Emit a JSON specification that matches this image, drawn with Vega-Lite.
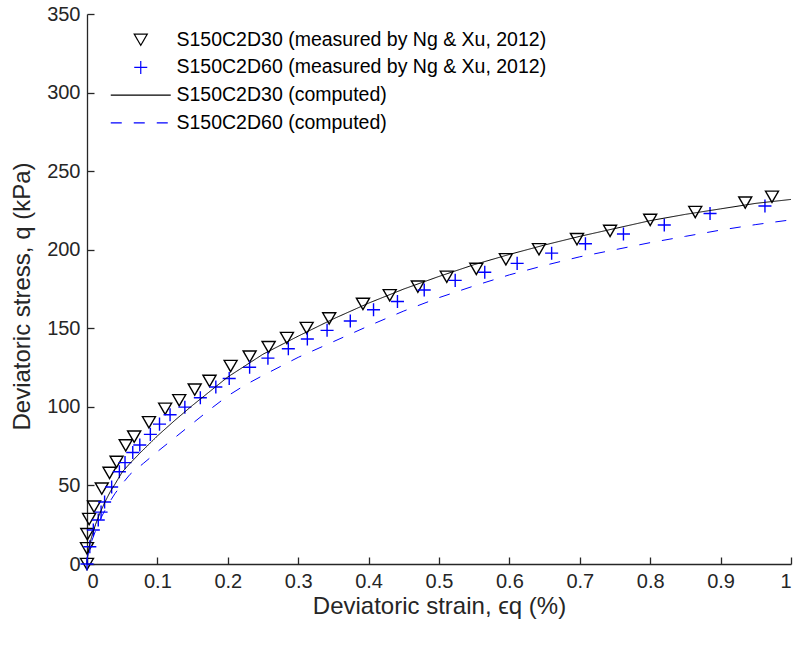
{
  "$schema": "https://vega.github.io/schema/vega-lite/v6.json",
  "width": 704,
  "height": 550,
  "autosize": {"type": "none"},
  "padding": {"left": 87, "top": 14, "right": 6, "bottom": 84},
  "background": "white",
  "config": {
    "view": {"stroke": null},
    "font": "Liberation Sans",
    "axis": {
      "grid": false,
      "domainColor": "#262626",
      "domainWidth": 1.3,
      "tickColor": "#262626",
      "tickWidth": 1.3,
      "tickSize": -7,
      "labelColor": "#262626",
      "labelFont": "Liberation Sans Narrow, Liberation Sans",
      "labelFontSize": 20,
      "titleColor": "#262626",
      "titleFontSize": 24,
      "titleFontWeight": "normal"
    }
  },
  "datasets": {
    "measured": [
      {"s": "S150C2D30 (measured by Ng & Xu, 2012)", "x": 0.0, "q": 0},
      {"s": "S150C2D30 (measured by Ng & Xu, 2012)", "x": 0.0, "q": 10},
      {"s": "S150C2D30 (measured by Ng & Xu, 2012)", "x": 0.0005, "q": 19},
      {"s": "S150C2D30 (measured by Ng & Xu, 2012)", "x": 0.003, "q": 28.6},
      {"s": "S150C2D30 (measured by Ng & Xu, 2012)", "x": 0.010, "q": 36.5},
      {"s": "S150C2D30 (measured by Ng & Xu, 2012)", "x": 0.021, "q": 48},
      {"s": "S150C2D30 (measured by Ng & Xu, 2012)", "x": 0.032, "q": 58},
      {"s": "S150C2D30 (measured by Ng & Xu, 2012)", "x": 0.042, "q": 65},
      {"s": "S150C2D30 (measured by Ng & Xu, 2012)", "x": 0.055, "q": 75.5},
      {"s": "S150C2D30 (measured by Ng & Xu, 2012)", "x": 0.067, "q": 81},
      {"s": "S150C2D30 (measured by Ng & Xu, 2012)", "x": 0.088, "q": 90.2},
      {"s": "S150C2D30 (measured by Ng & Xu, 2012)", "x": 0.111, "q": 98.8},
      {"s": "S150C2D30 (measured by Ng & Xu, 2012)", "x": 0.131, "q": 104.2},
      {"s": "S150C2D30 (measured by Ng & Xu, 2012)", "x": 0.153, "q": 111},
      {"s": "S150C2D30 (measured by Ng & Xu, 2012)", "x": 0.174, "q": 116.5},
      {"s": "S150C2D30 (measured by Ng & Xu, 2012)", "x": 0.204, "q": 126},
      {"s": "S150C2D30 (measured by Ng & Xu, 2012)", "x": 0.231, "q": 132},
      {"s": "S150C2D30 (measured by Ng & Xu, 2012)", "x": 0.258, "q": 138},
      {"s": "S150C2D30 (measured by Ng & Xu, 2012)", "x": 0.284, "q": 143.8},
      {"s": "S150C2D30 (measured by Ng & Xu, 2012)", "x": 0.312, "q": 150.2},
      {"s": "S150C2D30 (measured by Ng & Xu, 2012)", "x": 0.344, "q": 156.3},
      {"s": "S150C2D30 (measured by Ng & Xu, 2012)", "x": 0.392, "q": 165.5},
      {"s": "S150C2D30 (measured by Ng & Xu, 2012)", "x": 0.430, "q": 171},
      {"s": "S150C2D30 (measured by Ng & Xu, 2012)", "x": 0.470, "q": 176.5},
      {"s": "S150C2D30 (measured by Ng & Xu, 2012)", "x": 0.511, "q": 182.8},
      {"s": "S150C2D30 (measured by Ng & Xu, 2012)", "x": 0.553, "q": 187.8},
      {"s": "S150C2D30 (measured by Ng & Xu, 2012)", "x": 0.595, "q": 193.9},
      {"s": "S150C2D30 (measured by Ng & Xu, 2012)", "x": 0.642, "q": 200.3},
      {"s": "S150C2D30 (measured by Ng & Xu, 2012)", "x": 0.696, "q": 206.7},
      {"s": "S150C2D30 (measured by Ng & Xu, 2012)", "x": 0.743, "q": 212},
      {"s": "S150C2D30 (measured by Ng & Xu, 2012)", "x": 0.800, "q": 219},
      {"s": "S150C2D30 (measured by Ng & Xu, 2012)", "x": 0.864, "q": 224},
      {"s": "S150C2D30 (measured by Ng & Xu, 2012)", "x": 0.935, "q": 230},
      {"s": "S150C2D30 (measured by Ng & Xu, 2012)", "x": 0.973, "q": 233.7},
      {"s": "S150C2D60 (measured by Ng & Xu, 2012)", "x": 0.0, "q": 0},
      {"s": "S150C2D60 (measured by Ng & Xu, 2012)", "x": 0.004, "q": 11},
      {"s": "S150C2D60 (measured by Ng & Xu, 2012)", "x": 0.009, "q": 21.6},
      {"s": "S150C2D60 (measured by Ng & Xu, 2012)", "x": 0.016, "q": 28},
      {"s": "S150C2D60 (measured by Ng & Xu, 2012)", "x": 0.020, "q": 33},
      {"s": "S150C2D60 (measured by Ng & Xu, 2012)", "x": 0.025, "q": 39.5},
      {"s": "S150C2D60 (measured by Ng & Xu, 2012)", "x": 0.035, "q": 49},
      {"s": "S150C2D60 (measured by Ng & Xu, 2012)", "x": 0.046, "q": 58.7},
      {"s": "S150C2D60 (measured by Ng & Xu, 2012)", "x": 0.054, "q": 64.5},
      {"s": "S150C2D60 (measured by Ng & Xu, 2012)", "x": 0.065, "q": 71},
      {"s": "S150C2D60 (measured by Ng & Xu, 2012)", "x": 0.075, "q": 75.7},
      {"s": "S150C2D60 (measured by Ng & Xu, 2012)", "x": 0.090, "q": 82.5},
      {"s": "S150C2D60 (measured by Ng & Xu, 2012)", "x": 0.103, "q": 89},
      {"s": "S150C2D60 (measured by Ng & Xu, 2012)", "x": 0.118, "q": 95},
      {"s": "S150C2D60 (measured by Ng & Xu, 2012)", "x": 0.139, "q": 99.8},
      {"s": "S150C2D60 (measured by Ng & Xu, 2012)", "x": 0.161, "q": 105.8},
      {"s": "S150C2D60 (measured by Ng & Xu, 2012)", "x": 0.183, "q": 112.6},
      {"s": "S150C2D60 (measured by Ng & Xu, 2012)", "x": 0.202, "q": 118},
      {"s": "S150C2D60 (measured by Ng & Xu, 2012)", "x": 0.231, "q": 125.2},
      {"s": "S150C2D60 (measured by Ng & Xu, 2012)", "x": 0.257, "q": 131},
      {"s": "S150C2D60 (measured by Ng & Xu, 2012)", "x": 0.286, "q": 137},
      {"s": "S150C2D60 (measured by Ng & Xu, 2012)", "x": 0.313, "q": 143.2},
      {"s": "S150C2D60 (measured by Ng & Xu, 2012)", "x": 0.341, "q": 148.7},
      {"s": "S150C2D60 (measured by Ng & Xu, 2012)", "x": 0.374, "q": 154.6},
      {"s": "S150C2D60 (measured by Ng & Xu, 2012)", "x": 0.407, "q": 161.8},
      {"s": "S150C2D60 (measured by Ng & Xu, 2012)", "x": 0.441, "q": 167},
      {"s": "S150C2D60 (measured by Ng & Xu, 2012)", "x": 0.479, "q": 174.4},
      {"s": "S150C2D60 (measured by Ng & Xu, 2012)", "x": 0.523, "q": 180.5},
      {"s": "S150C2D60 (measured by Ng & Xu, 2012)", "x": 0.565, "q": 185.7},
      {"s": "S150C2D60 (measured by Ng & Xu, 2012)", "x": 0.611, "q": 191.3},
      {"s": "S150C2D60 (measured by Ng & Xu, 2012)", "x": 0.660, "q": 197.8},
      {"s": "S150C2D60 (measured by Ng & Xu, 2012)", "x": 0.708, "q": 203.8},
      {"s": "S150C2D60 (measured by Ng & Xu, 2012)", "x": 0.762, "q": 210},
      {"s": "S150C2D60 (measured by Ng & Xu, 2012)", "x": 0.820, "q": 215.7},
      {"s": "S150C2D60 (measured by Ng & Xu, 2012)", "x": 0.885, "q": 223},
      {"s": "S150C2D60 (measured by Ng & Xu, 2012)", "x": 0.963, "q": 227.8}
    ],
    "computed": [
      {"s": "S150C2D30 (computed)", "x": 0, "q": 0},
      {"s": "S150C2D30 (computed)", "x": 0.001, "q": 6},
      {"s": "S150C2D30 (computed)", "x": 0.003, "q": 11},
      {"s": "S150C2D30 (computed)", "x": 0.0066, "q": 17.4},
      {"s": "S150C2D30 (computed)", "x": 0.012, "q": 25},
      {"s": "S150C2D30 (computed)", "x": 0.018, "q": 32},
      {"s": "S150C2D30 (computed)", "x": 0.025, "q": 39},
      {"s": "S150C2D30 (computed)", "x": 0.033, "q": 46},
      {"s": "S150C2D30 (computed)", "x": 0.04, "q": 51},
      {"s": "S150C2D30 (computed)", "x": 0.05, "q": 58.5},
      {"s": "S150C2D30 (computed)", "x": 0.061, "q": 64},
      {"s": "S150C2D30 (computed)", "x": 0.075, "q": 70.5},
      {"s": "S150C2D30 (computed)", "x": 0.1, "q": 81.5},
      {"s": "S150C2D30 (computed)", "x": 0.125, "q": 91.5},
      {"s": "S150C2D30 (computed)", "x": 0.15, "q": 101},
      {"s": "S150C2D30 (computed)", "x": 0.175, "q": 110},
      {"s": "S150C2D30 (computed)", "x": 0.2, "q": 119},
      {"s": "S150C2D30 (computed)", "x": 0.25, "q": 133.5},
      {"s": "S150C2D30 (computed)", "x": 0.3, "q": 145},
      {"s": "S150C2D30 (computed)", "x": 0.35, "q": 156},
      {"s": "S150C2D30 (computed)", "x": 0.4, "q": 166},
      {"s": "S150C2D30 (computed)", "x": 0.45, "q": 175},
      {"s": "S150C2D30 (computed)", "x": 0.5, "q": 183},
      {"s": "S150C2D30 (computed)", "x": 0.55, "q": 190.5},
      {"s": "S150C2D30 (computed)", "x": 0.6, "q": 197},
      {"s": "S150C2D30 (computed)", "x": 0.65, "q": 203},
      {"s": "S150C2D30 (computed)", "x": 0.7, "q": 208.5},
      {"s": "S150C2D30 (computed)", "x": 0.75, "q": 213.5},
      {"s": "S150C2D30 (computed)", "x": 0.8, "q": 218.5},
      {"s": "S150C2D30 (computed)", "x": 0.85, "q": 222.5},
      {"s": "S150C2D30 (computed)", "x": 0.9, "q": 226},
      {"s": "S150C2D30 (computed)", "x": 0.95, "q": 229.5},
      {"s": "S150C2D30 (computed)", "x": 1.0, "q": 232},
      {"s": "S150C2D60 (computed)", "x": 0, "q": 0},
      {"s": "S150C2D60 (computed)", "x": 0.001, "q": 5},
      {"s": "S150C2D60 (computed)", "x": 0.003, "q": 9},
      {"s": "S150C2D60 (computed)", "x": 0.007, "q": 15},
      {"s": "S150C2D60 (computed)", "x": 0.012, "q": 21},
      {"s": "S150C2D60 (computed)", "x": 0.02, "q": 29.5},
      {"s": "S150C2D60 (computed)", "x": 0.03, "q": 38},
      {"s": "S150C2D60 (computed)", "x": 0.04, "q": 45},
      {"s": "S150C2D60 (computed)", "x": 0.05, "q": 51},
      {"s": "S150C2D60 (computed)", "x": 0.061, "q": 57},
      {"s": "S150C2D60 (computed)", "x": 0.08, "q": 64},
      {"s": "S150C2D60 (computed)", "x": 0.1, "q": 71.5},
      {"s": "S150C2D60 (computed)", "x": 0.125, "q": 80.5},
      {"s": "S150C2D60 (computed)", "x": 0.15, "q": 89.5},
      {"s": "S150C2D60 (computed)", "x": 0.175, "q": 98.5},
      {"s": "S150C2D60 (computed)", "x": 0.2, "q": 107},
      {"s": "S150C2D60 (computed)", "x": 0.225, "q": 114},
      {"s": "S150C2D60 (computed)", "x": 0.25, "q": 120},
      {"s": "S150C2D60 (computed)", "x": 0.3, "q": 131.5},
      {"s": "S150C2D60 (computed)", "x": 0.35, "q": 141.5},
      {"s": "S150C2D60 (computed)", "x": 0.4, "q": 151.5},
      {"s": "S150C2D60 (computed)", "x": 0.45, "q": 161},
      {"s": "S150C2D60 (computed)", "x": 0.5, "q": 169.5},
      {"s": "S150C2D60 (computed)", "x": 0.55, "q": 177},
      {"s": "S150C2D60 (computed)", "x": 0.6, "q": 184},
      {"s": "S150C2D60 (computed)", "x": 0.65, "q": 190},
      {"s": "S150C2D60 (computed)", "x": 0.7, "q": 195.5},
      {"s": "S150C2D60 (computed)", "x": 0.75, "q": 200},
      {"s": "S150C2D60 (computed)", "x": 0.8, "q": 204.5},
      {"s": "S150C2D60 (computed)", "x": 0.85, "q": 208.5},
      {"s": "S150C2D60 (computed)", "x": 0.9, "q": 212.5},
      {"s": "S150C2D60 (computed)", "x": 0.95, "q": 216},
      {"s": "S150C2D60 (computed)", "x": 1.0, "q": 219}
    ]
  },
  "encoding": {
    "x": {
      "field": "x",
      "type": "quantitative",
      "scale": {"domain": [0, 1], "nice": false, "zero": false},
      "axis": {
        "values": [0, 0.1, 0.2, 0.3, 0.4, 0.5, 0.6, 0.7, 0.8, 0.9, 1],
        "format": "~g",
        "labelPadding": 14,
        "title": "Deviatoric strain, ϵq (%)",
        "titleX": 352,
        "titleY": 42,
        "titleBaseline": "middle"
      }
    },
    "y": {
      "field": "q",
      "type": "quantitative",
      "scale": {"domain": [0, 350], "nice": false},
      "axis": {
        "values": [0, 50, 100, 150, 200, 250, 300, 350],
        "labelPadding": 14,
        "title": "Deviatoric stress, q (kPa)",
        "titleX": -65,
        "titleY": 282,
        "titleBaseline": "middle"
      }
    },
    "color": {
      "field": "s",
      "type": "nominal",
      "scale": {
        "domain": ["S150C2D30 (measured by Ng & Xu, 2012)", "S150C2D60 (measured by Ng & Xu, 2012)", "S150C2D30 (computed)", "S150C2D60 (computed)"],
        "range": ["#000000", "#0000ff", "#000000", "#0000ff"]
      },
      "legend": {
        "title": null,
        "orient": "none",
        "legendX": 44,
        "legendY": 16,
        "padding": 0,
        "labelFontSize": 19.5,
        "labelColor": "#000000",
        "labelOffset": 26,
        "symbolSize": 170,
        "symbolStrokeWidth": 1.2,
        "symbolFillColor": "transparent",
        "rowPadding": 6.7,
        "labelLimit": 500
      }
    },
    "strokeDash": {
      "field": "s",
      "type": "nominal",
      "scale": {
        "domain": ["S150C2D30 (measured by Ng & Xu, 2012)", "S150C2D60 (measured by Ng & Xu, 2012)", "S150C2D30 (computed)", "S150C2D60 (computed)"],
        "range": [[1, 0], [1, 0], [1, 0], [11, 12]]
      }
    }
  },
  "layer": [
    {
      "data": {"name": "measured"},
      "mark": {"type": "point", "filled": false, "size": 170, "strokeWidth": 1.4, "opacity": 1},
      "encoding": {
        "shape": {
          "field": "s",
          "type": "nominal",
          "scale": {
            "domain": ["S150C2D30 (measured by Ng & Xu, 2012)", "S150C2D60 (measured by Ng & Xu, 2012)", "S150C2D30 (computed)", "S150C2D60 (computed)"],
            "range": ["triangle-down", "M-1,0L1,0M0,-1L0,1", "M-4.6,0L4.6,0", "M-4.6,0L4.6,0"]
          }
        }
      }
    },
    {
      "data": {"name": "computed"},
      "mark": {"type": "line", "strokeWidth": 1},
      "encoding": {}
    }
  ]
}
